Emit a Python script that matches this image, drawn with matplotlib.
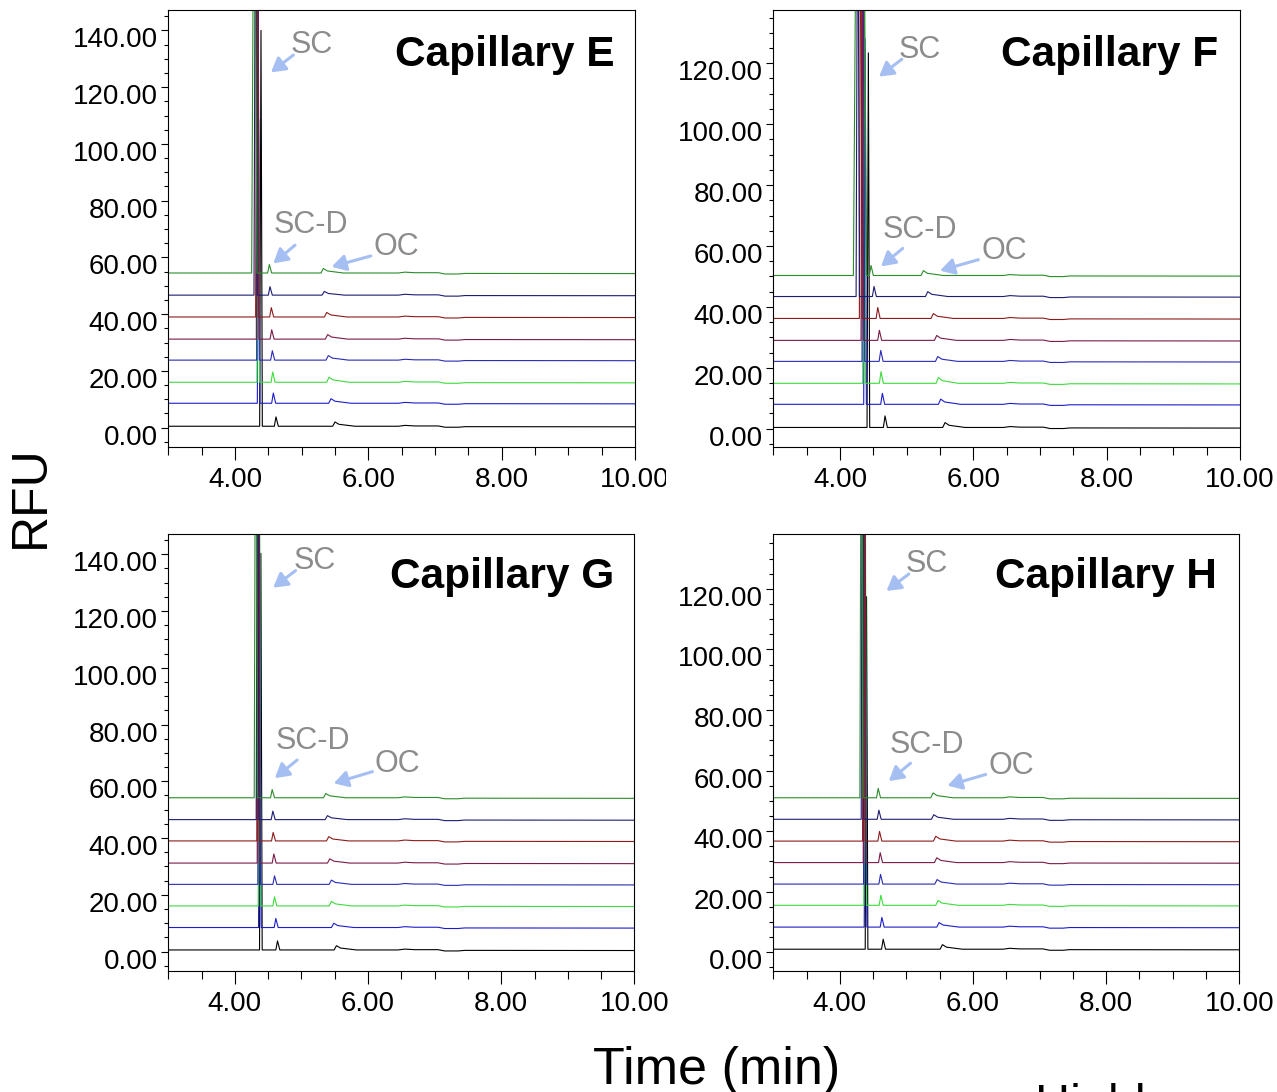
import numpy as np
import matplotlib
matplotlib.use('Agg')
import matplotlib.pyplot as plt
from matplotlib.ticker import MultipleLocator, FormatStrFormatter
from matplotlib.transforms import ScaledTranslation, Bbox, TransformedBbox

plt.rcParams['font.family'] = ['Liberation Sans', 'DejaVu Sans']

# trace order: bottom -> top
colors = ['#000000', '#1c1ccc', '#3cdc3c', '#2a2ab4', '#7a1a48', '#8c1a1a', '#1c1c72', '#2a8c2a']

panels = ['E', 'F', 'G', 'H']

# baseline offset of each trace (RFU)
base_E = [0.5, 8.6, 16.0, 23.8, 31.2, 39.0, 46.7, 54.5]
base_F = [0.4, 8.0, 14.9, 22.1, 29.0, 36.2, 43.4, 50.3]
base_G = [0.6, 8.5, 16.1, 23.7, 31.2, 39.0, 46.5, 54.2]
base_H = [1.0, 8.3, 15.5, 22.5, 29.6, 36.7, 43.9, 51.0]

# SC peak (min, RFU above baseline, half base width)
sc_t_E = [4.39, 4.355, 4.35, 4.345, 4.34, 4.33, 4.31, 4.29]
sc_h_E = [139.5, 100, 112, 160, 170, 180, 175, 190]
sc_w_E = [0.02, 0.02, 0.02, 0.02, 0.02, 0.02, 0.025, 0.04]
sc_t_F = [4.425, 4.375, 4.36, 4.35, 4.335, 4.31, 4.266, 4.30]
sc_h_F = [123, 120, 150, 160, 150, 170, 160, 300]
sc_w_F = [0.02, 0.02, 0.02, 0.02, 0.02, 0.02, 0.025, 0.1]
sc_t_G = [4.39, 4.375, 4.37, 4.365, 4.355, 4.35, 4.34, 4.315]
sc_h_G = [139.7, 105, 160, 150, 170, 165, 180, 190]
sc_w_G = [0.02, 0.02, 0.02, 0.02, 0.02, 0.02, 0.02, 0.025]
sc_t_H = [4.40, 4.385, 4.38, 4.375, 4.37, 4.36, 4.34, 4.325]
sc_h_H = [116.4, 85, 160, 150, 170, 165, 180, 190]
sc_w_H = [0.02, 0.02, 0.02, 0.02, 0.02, 0.02, 0.02, 0.025]

# SC-D peak
scd_t_E = [4.615, 4.575, 4.566, 4.56, 4.551, 4.545, 4.525, 4.515]
scd_h_E = [3.3, 3.6, 3.6, 3.3, 3.3, 3.3, 3.0, 3.0]
scd_t_F = [4.675, 4.635, 4.615, 4.611, 4.59, 4.566, 4.51, 4.465]
scd_h_F = [3.8, 3.6, 3.8, 3.6, 3.3, 3.6, 3.3, 3.3]
scd_t_G = [4.64, 4.615, 4.595, 4.595, 4.585, 4.575, 4.57, 4.56]
scd_h_G = [3.2, 3.2, 3.2, 3.0, 3.2, 3.0, 3.0, 2.9]
scd_t_H = [4.65, 4.63, 4.615, 4.61, 4.605, 4.595, 4.585, 4.575]
scd_h_H = [3.3, 3.2, 3.3, 3.2, 3.3, 3.2, 3.0, 3.1]

# OC peak
oc_t_E = [5.50, 5.44, 5.41, 5.40, 5.39, 5.376, 5.34, 5.325]
oc_h_E = [1.5, 1.6, 1.8, 1.6, 1.6, 1.6, 1.3, 1.6]
oc_t_F = [5.575, 5.51, 5.475, 5.466, 5.45, 5.40, 5.316, 5.25]
oc_h_F = [1.6, 1.7, 1.9, 1.6, 1.6, 1.6, 1.6, 1.6]
oc_t_G = [5.525, 5.485, 5.45, 5.45, 5.425, 5.41, 5.39, 5.365]
oc_h_G = [1.5, 1.5, 1.6, 1.5, 1.5, 1.5, 1.4, 1.5]
oc_t_H = [5.54, 5.49, 5.475, 5.46, 5.455, 5.44, 5.41, 5.40]
oc_h_H = [1.5, 1.5, 1.6, 1.5, 1.6, 1.6, 1.5, 1.6]

data = {
    'E': (base_E, sc_t_E, sc_h_E, sc_w_E, scd_t_E, scd_h_E, oc_t_E, oc_h_E),
    'F': (base_F, sc_t_F, sc_h_F, sc_w_F, scd_t_F, scd_h_F, oc_t_F, oc_h_F),
    'G': (base_G, sc_t_G, sc_h_G, sc_w_G, scd_t_G, scd_h_G, oc_t_G, oc_h_G),
    'H': (base_H, sc_t_H, sc_h_H, sc_w_H, scd_t_H, scd_h_H, oc_t_H, oc_h_H),
}

ylims = {'E': (-6.8, 147.2), 'F': (-6.0, 137.5), 'G': (-6.7, 147.1), 'H': (-6.2, 138.0)}

# axes rectangles in figure fraction
rects = {
    'E': [0.1318, 0.5907, 0.3655, 0.4002],
    'F': [0.6056, 0.5907, 0.3655, 0.4002],
    'G': [0.1318, 0.1111, 0.3650, 0.3999],
    'H': [0.6056, 0.1108, 0.3649, 0.3999],
}

# annotation layout: label (x, baseline y), arrow tail, arrow head
notes = {
    'E': [('SC', (5.155, 132.0), (4.875, 131.3), (4.54, 125.2)),
          ('SC-D', (5.14, 68.6), (4.90, 64.3), (4.575, 57.9)),
          ('OC', (6.415, 60.8), (6.036, 60.5), (5.45, 56.7))],
    'F': [('SC', (5.196, 121.7), (4.926, 121.3), (4.585, 115.6)),
          ('SC-D', (5.193, 62.7), (4.94, 59.2), (4.615, 53.3)),
          ('OC', (6.46, 55.8), (6.075, 55.5), (5.50, 51.9))],
    'G': [('SC', (5.193, 134.8), (4.911, 134.2), (4.575, 128.2)),
          ('SC-D', (5.17, 71.3), (4.935, 67.5), (4.60, 61.1)),
          ('OC', (6.445, 63.4), (6.066, 63.4), (5.485, 59.3))],
    'H': [('SC', (5.31, 125.4), (5.035, 124.9), (4.70, 119.3)),
          ('SC-D', (5.305, 65.9), (5.06, 62.4), (4.735, 56.5)),
          ('OC', (6.576, 58.7), (6.19, 58.7), (5.616, 55.0))],
}


def trace_points(b, st, sh, sw, dt, dh, ot, oh):
    xs = [3.0, st - sw, st, st + sw, dt - 0.025, dt, dt + 0.035,
          ot - 0.035, ot, ot + 0.06, ot + 0.3,
          6.45, 6.55, 6.7, 7.05, 7.15, 7.35, 7.45, 10.0]
    ys = [0, 0, sh, 0, 0, dh, 0,
          0, oh, oh * 0.45, 0,
          0, 0.3, 0.1, 0.1, -0.35, -0.35, -0.15, -0.2]
    return np.array(xs), b + np.array(ys)


fig = plt.figure(figsize=(12.77, 10.92), dpi=100)
axes = {}
for p in panels:
    ax = fig.add_axes(rects[p])
    axes[p] = ax
    base, st, sh, sw, dt, dh, ot, oh = data[p]
    for i in range(len(base)):
        xs, ys = trace_points(base[i], st[i], sh[i], sw[i], dt[i], dh[i], ot[i], oh[i])
        ax.plot(xs, ys, color=colors[i], lw=0.8)

    ax.set_xlim(3, 10)
    ax.set_ylim(*ylims[p])
    ax.xaxis.set_major_locator(MultipleLocator(2))
    ax.xaxis.set_minor_locator(MultipleLocator(0.5))
    ax.yaxis.set_major_locator(MultipleLocator(20))
    ax.yaxis.set_minor_locator(MultipleLocator(5))
    ax.xaxis.set_major_formatter(FormatStrFormatter('%.2f'))
    ax.yaxis.set_major_formatter(FormatStrFormatter('%.2f'))
    ax.set_xticks([4, 6, 8, 10])
    ax.set_yticks([0, 20, 40, 60, 80, 100, 120, 140] if p in 'EG' else [0, 20, 40, 60, 80, 100, 120])
    ax.tick_params(axis='x', which='major', direction='out', length=9.5, width=0.8, labelsize=20, pad=5)
    ax.tick_params(axis='x', which='minor', direction='out', length=5.5, width=0.8)
    ax.tick_params(axis='y', which='major', direction='out', length=5.4, width=0.8, labelsize=20, pad=2)
    ax.tick_params(axis='y', which='minor', direction='out', length=3, width=0.8)
    for s in ax.spines.values():
        s.set_linewidth(0.8)

    ax.text(0.957 if p in 'EG' else 0.952, 0.872 if p in 'EF' else 0.876, 'Capillary ' + p,
            transform=ax.transAxes, ha='right', va='baseline',
            fontsize=30.5, fontweight='bold')

    for label, pos, tail, head in notes[p]:
        ax.text(pos[0], pos[1], label, ha='center', va='baseline', fontsize=22, color='#8c8c8c')
        ax.annotate('', xy=head, xytext=tail,
                    arrowprops=dict(arrowstyle='-|>,head_length=0.6,head_width=0.35',
                                    color='#a6bff2', lw=2.2, mutation_scale=14,
                                    shrinkA=0, shrinkB=0))

fig.text(31 / 1277, 1 - 497 / 1092, 'RFU', rotation=90, fontsize=36, ha='center', va='center')
fig.text(717 / 1277, 1 - 1084 / 1092, 'Time (min)', fontsize=37.5, ha='center', va='baseline')
fig.text(1035 / 1277, 1 - 1118 / 1092, 'Highly reproducible', fontsize=35, ha='left', va='baseline')

# y labels sit a little below their ticks in the original
shift = ScaledTranslation(0, -0.07, fig.dpi_scale_trans)
for p in panels:
    for lab in axes[p].get_yticklabels():
        lab.set_transform(lab.get_transform() + shift)

# the 10.00 of panel E is cut off by panel F in the original
clip = TransformedBbox(Bbox([[0, 0], [666 / 1277, 1]]), fig.transFigure)
for lab in axes['E'].get_xticklabels():
    lab.set_clip_on(True)
    lab.set_clip_box(clip)

fig.savefig('out.png', dpi=100)
